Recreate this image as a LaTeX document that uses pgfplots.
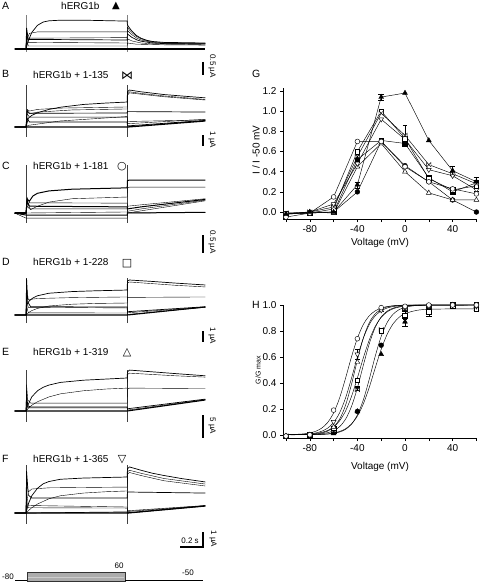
\documentclass[border=0pt]{standalone}
\usepackage{pgfplots}
\pgfplotsset{compat=1.18}
\usepackage{fontspec}
\setmainfont{Liberation Sans}
\newfontfamily\symf{DejaVu Sans}
\pgfdeclareplotmark{bowtie}{%
  \pgfpathmoveto{\pgfqpoint{-\pgfplotmarksize}{\pgfplotmarksize}}%
  \pgfpathlineto{\pgfqpoint{\pgfplotmarksize}{-\pgfplotmarksize}}%
  \pgfpathlineto{\pgfqpoint{\pgfplotmarksize}{\pgfplotmarksize}}%
  \pgfpathlineto{\pgfqpoint{-\pgfplotmarksize}{-\pgfplotmarksize}}%
  \pgfpathclose\pgfusepathqfillstroke}
\pgfplotsset{
  trace/.style={scale only axis, hide axis, clip=false, xmin=-0.1, xmax=1.56, width=190.9pt,
    anchor=south west, no markers, cycle list={{black, solid, line width=0.7pt}}},
  art/.style={black!75, line width=0.6pt},
  iv/.style={scale only axis, anchor=south west, width=194pt, xmin=-102.5, xmax=60.5, clip=false,
    axis x line*=bottom, axis y line*=left, axis line style={-, line width=0.6pt},
    xtick={-80,-40,0,40}, minor xtick={-100,-60,-20,20,60},
    tick align=outside, major tick length=3pt, minor tick length=3pt,
    tick style={black, line width=0.5pt},
    tick label style={font=\fontsize{10}{12}\selectfont},
    /pgf/number format/assume math mode=true,
    yticklabel style={/pgf/number format/.cd, fixed, fixed zerofill, precision=1},
    every axis plot/.append style={black, line width=0.45pt}},
  mA/.style={mark=triangle*, mark size=2.8pt, mark options={fill=black, solid}},
  mB/.style={mark=bowtie, mark size=2.2pt, mark options={fill=white, solid}},
  mC/.style={mark=*, mark size=2.4pt, mark options={fill=white, solid}},
  mD/.style={mark=square*, mark size=2.3pt, mark options={fill=white, solid}},
  mE/.style={mark=triangle*, mark size=2.8pt, mark options={fill=white, solid}},
  mF/.style={mark=triangle*, mark size=2.8pt, mark options={fill=white, rotate=180, solid}},
  mG/.style={mark=*, mark size=2.4pt, mark options={fill=black, solid}},
  mH/.style={mark=square*, mark size=2.3pt, mark options={fill=black, solid}},
}
\begin{document}
\begin{tikzpicture}
\useasboundingbox (0,0) rectangle (480pt,-583pt);

% ---------------- Panel A ----------------
\begin{axis}[trace, at={(14.5pt,-53.5pt)}, ymin=-0.15, ymax=1.2, height=40.5pt]
\addplot[art, black!50] coordinates {(0,-0.1)(0,1.13)};
\addplot[art, black!50] coordinates {(0.88,-0.1)(0.88,1.13)};
\addplot coordinates {(-0.1,0)(0,0)(0.02,0.27)(0.05,0.55)(0.1,0.79)(0.15,0.9)(0.2,0.94)(0.3,0.96)(0.5,0.96)(0.88,0.93)(0.882,0.8)(0.9,0.7)(0.92,0.6)(0.96,0.45)(1.0,0.36)(1.05,0.29)(1.1,0.25)(1.2,0.22)(1.56,0.2)};
\addplot coordinates {(-0.1,0)(0,0)(0.005,0.5)(0.01,0.35)(0.03,0.52)(0.1,0.57)(0.88,0.57)(0.882,0.72)(0.9,0.63)(0.92,0.55)(0.96,0.42)(1.0,0.34)(1.05,0.28)(1.1,0.24)(1.2,0.21)(1.56,0.19)};
\addplot coordinates {(-0.1,0)(0,0)(0.005,0.6)(0.015,0.3)(0.03,0.36)(0.88,0.38)(0.882,0.62)(0.9,0.55)(0.92,0.48)(0.96,0.37)(1.0,0.3)(1.1,0.22)(1.2,0.19)(1.56,0.18)};
\addplot coordinates {(-0.1,0)(0,0)(0.005,0.7)(0.02,0.32)(0.88,0.3)(0.882,0.5)(0.92,0.39)(0.96,0.31)(1.0,0.26)(1.1,0.2)(1.2,0.18)(1.56,0.17)};
\addplot coordinates {(-0.1,0)(0,0)(0.005,0.55)(0.02,0.22)(0.88,0.2)(0.882,0.34)(0.92,0.27)(1.0,0.2)(1.1,0.17)(1.56,0.15)};
\addplot coordinates {(-0.1,0)(0,0)(0.005,0.35)(0.02,0.1)(0.88,0.1)(0.882,0.2)(0.96,0.16)(1.2,0.14)(1.56,0.13)};
\addplot[line width=1.3pt] coordinates {(-0.1,0)(1.56,0)};
\end{axis}

% ---------------- Panel B ----------------
\begin{axis}[trace, at={(14.5pt,-138pt)}, ymin=-1, ymax=4, height=55pt]
\addplot[art] coordinates {(0,-0.9)(0,3.8)};
\addplot[art] coordinates {(0.88,-0.9)(0.88,3.8)};
\addplot coordinates {(-0.1,0)(0,0)(0.02,0.8)(0.05,1.05)(0.1,1.3)(0.2,1.6)(0.3,1.8)(0.5,2.05)(0.7,2.18)(0.88,2.27)(0.882,3.2)(0.9,3.36)(1.0,3.2)(1.2,2.95)(1.4,2.78)(1.56,2.65)};
\addplot coordinates {(-0.1,0)(0,0)(0.01,1.6)(0.03,1.45)(0.1,1.6)(0.3,1.72)(0.88,1.82)(0.882,3.0)(0.9,3.2)(1.0,3.05)(1.2,2.82)(1.4,2.65)(1.56,2.5)};
\addplot coordinates {(-0.1,0)(0,0)(0.01,1.4)(0.03,1.2)(0.1,1.35)(0.4,1.55)(0.88,1.64)(0.882,2.9)(0.9,3.1)(1.0,2.98)(1.2,2.75)(1.56,2.45)};
\addplot coordinates {(-0.1,0)(0,0)(0.01,1.5)(0.03,1.25)(0.88,1.27)(0.882,1.4)(1.56,1.36)};
\addplot coordinates {(-0.1,0)(0,0)(0.01,1.2)(0.03,0.9)(0.88,0.9)(0.882,0.3)(1.56,0.7)};
\addplot coordinates {(-0.1,0)(0,0)(0.02,0.15)(0.3,0.55)(0.88,0.95)(0.882,0.5)(1.56,0.65)};
\addplot coordinates {(-0.1,0)(0,0)(0.01,0.8)(0.03,0.45)(0.88,0.45)(0.882,0.1)(1.56,0.6)};
\addplot[line width=1.3pt] coordinates {(-0.1,0)(0.88,0)(0.882,0)(1.56,0.55)};
\end{axis}

% ---------------- Panel C ----------------
\begin{axis}[trace, at={(14.5pt,-223.2pt)}, ymin=-0.3, ymax=1.45, height=59.5pt,
  cycle list={{black, solid, line width=1pt}}]
\addplot[art] coordinates {(0,-0.29)(0,1.41)};
\addplot[art] coordinates {(0.88,-0.29)(0.88,1.41)};
\addplot coordinates {(-0.1,0)(0,0)(0.01,0.4)(0.03,0.35)(0.06,0.5)(0.1,0.58)(0.2,0.65)(0.4,0.7)(0.88,0.74)(0.882,0.95)(0.9,0.97)(1.56,0.97)};
\addplot coordinates {(-0.1,0)(0,0)(0.01,0.3)(0.04,0.1)(0.1,0.2)(0.2,0.32)(0.4,0.42)(0.88,0.47)(0.882,0.74)(0.9,0.76)(1.56,0.76)};
\addplot coordinates {(-0.1,0)(0,0)(0.01,0.45)(0.03,0.3)(0.88,0.29)(0.882,0.2)(1.0,0.24)(1.56,0.42)};
\addplot coordinates {(-0.1,0)(0,0)(0.01,0.35)(0.03,0.2)(0.88,0.18)(0.882,0.12)(1.0,0.18)(1.56,0.40)};
\addplot coordinates {(-0.1,0)(0,0)(0.01,0.2)(0.03,0.12)(0.88,0.12)(0.882,0.05)(1.0,0.12)(1.56,0.38)};
\addplot coordinates {(-0.1,0)(0,0)(0.88,0.03)(0.882,0.0)(1.56,0.36)};
\addplot coordinates {(-0.1,0)(0,-0.06)(0.88,-0.06)(0.882,0)(1.56,0.02)};
\addplot coordinates {(-0.1,0)(0,-0.15)(0.88,-0.15)(0.882,0)(1.56,0.02)};
\addplot[line width=2pt] coordinates {(-0.1,0)(0,0)};
\end{axis}

% ---------------- Panel D ----------------
\begin{axis}[trace, at={(14.5pt,-323.8pt)}, ymin=-0.8, ymax=3.5, height=47.3pt]
\addplot[art] coordinates {(0,-0.73)(0,3.36)};
\addplot[art] coordinates {(0.88,-0.73)(0.88,3.36)};
\addplot coordinates {(-0.1,0)(0,0)(0.01,1.0)(0.03,1.3)(0.06,1.55)(0.1,1.75)(0.2,1.98)(0.4,2.13)(0.6,2.2)(0.88,2.27)(0.882,3.1)(0.9,3.18)(1.1,3.05)(1.3,2.9)(1.56,2.73)};
\addplot coordinates {(-0.1,0)(0,0)(0.005,2.5)(0.02,1.4)(0.1,1.5)(0.4,1.58)(0.88,1.64)(0.882,2.9)(0.9,3.0)(1.1,2.85)(1.3,2.7)(1.56,2.55)};
\addplot coordinates {(-0.1,0)(0,0)(0.02,0.2)(0.05,0.4)(0.1,0.6)(0.2,0.82)(0.4,0.98)(0.6,1.05)(0.88,1.09)(0.882,1.6)(1.56,1.64)};
\addplot coordinates {(-0.1,0)(0,0)(0.005,3.3)(0.015,1.2)(0.04,0.75)(0.88,0.73)(0.882,0.3)(1.56,0.75)};
\addplot coordinates {(-0.1,0)(0,0)(0.005,1.5)(0.02,0.7)(0.88,0.64)(0.882,0.2)(1.56,0.72)};
\addplot coordinates {(-0.1,0)(0,0)(0.005,0.8)(0.02,0.2)(0.88,0.18)(0.882,0.05)(1.56,0.7)};
\addplot[line width=1.1pt] coordinates {(-0.1,0)(0.88,0)(0.882,0)(1.56,0.73)};
\end{axis}

% ---------------- Panel E ----------------
\begin{axis}[trace, at={(14.5pt,-422.4pt)}, ymin=-2.6, ymax=9.5, height=53.2pt]
\addplot[art] coordinates {(0,-2.5)(0,9.3)};
\addplot[art] coordinates {(0.88,-2.5)(0.88,9.3)};
\addplot coordinates {(-0.1,0)(0,0)(0.02,1.5)(0.05,3.2)(0.1,4.6)(0.15,5.4)(0.2,5.9)(0.3,6.5)(0.5,7.0)(0.88,7.5)(0.882,8.9)(0.9,9.3)(1.1,8.9)(1.3,8.5)(1.56,8.0)};
\addplot coordinates {(-0.1,0)(0,0)(0.02,0.6)(0.05,1.3)(0.1,2.1)(0.2,3.2)(0.3,3.9)(0.5,4.6)(0.7,5.0)(0.88,5.2)(0.882,8.3)(0.9,8.6)(1.1,8.3)(1.3,8.0)(1.56,7.7)};
\addplot coordinates {(-0.1,0)(0,0)(0.005,6)(0.015,2.5)(0.04,1.8)(0.88,1.8)(0.882,5.0)(0.9,5.2)(1.56,5.1)};
\addplot coordinates {(-0.1,0)(0,0)(0.005,4)(0.015,1.2)(0.04,0.9)(0.88,0.9)(0.882,0.5)(1.56,2.7)};
\addplot coordinates {(-0.1,0)(0,0)(0.005,2.5)(0.02,0.7)(0.88,0.7)(0.882,0.2)(1.56,2.6)};
\addplot[line width=1.1pt] coordinates {(-0.1,0)(0.88,0)(0.882,0)(1.56,2.5)};
\end{axis}

% ---------------- Panel F ----------------
\begin{axis}[trace, at={(14.5pt,-525pt)}, ymin=-0.8, ymax=3.3, height=61.5pt]
\addplot[art] coordinates {(0,-0.73)(0,3.2)};
\addplot[art] coordinates {(0.88,-0.73)(0.88,3.2)};
\addplot coordinates {(-0.1,0)(0,0)(0.02,0.6)(0.05,1.15)(0.1,1.65)(0.15,1.95)(0.2,2.1)(0.3,2.25)(0.5,2.33)(0.88,2.4)(0.882,2.95)(0.9,3.07)(1.0,2.85)(1.1,2.65)(1.2,2.5)(1.35,2.3)(1.56,2.07)};
\addplot coordinates {(-0.1,0)(0,0)(0.005,2.2)(0.02,1.4)(0.05,1.6)(0.2,1.68)(0.88,1.73)(0.882,2.75)(0.9,2.85)(1.0,2.65)(1.2,2.3)(1.56,1.93)};
\addplot coordinates {(-0.1,0)(0,0)(0.02,0.15)(0.05,0.35)(0.1,0.6)(0.2,0.95)(0.3,1.15)(0.5,1.33)(0.7,1.42)(0.88,1.47)(0.882,2.6)(0.9,2.7)(1.0,2.5)(1.2,2.15)(1.56,1.8)};
\addplot coordinates {(-0.1,0)(0,0)(0.005,2.8)(0.02,1.2)(0.05,1.0)(0.88,1.0)(0.882,1.4)(1.56,1.33)};
\addplot coordinates {(-0.1,0)(0,0)(0.005,1.5)(0.02,0.5)(0.88,0.4)(0.882,0.15)(1.56,0.5)};
\addplot coordinates {(-0.1,0)(0,0)(0.005,0.8)(0.02,0.35)(0.88,0.33)(0.882,0.1)(1.56,0.48)};
\addplot coordinates {(-0.1,0)(0,0)(0.88,0.07)(0.882,0)(1.56,0.47)};
\addplot[line width=1.3pt] coordinates {(-0.1,0)(0.88,0)(1.56,0.47)};
\end{axis}

% ---------------- Panel G ----------------
\begin{axis}[iv, at={(283pt,-219pt)}, height=131pt, ymin=-0.069, ymax=1.23,
  ytick={0,0.2,0.4,0.6,0.8,1.0,1.2}]
\addplot[mG] coordinates {(-100,-0.02)(-80,-0.01)(-60,0.0)(-40,0.20)(-20,0.70)(0,0.46)(20,0.30)(40,0.12)(60,0.0)};
\addplot[mH] coordinates {(-100,-0.01)(-80,-0.01)(-60,0.0)(-40,0.52)(-20,0.71)(0,0.68)(20,0.34)(40,0.20)(60,0.29)};
\addplot[mE] coordinates {(-100,-0.02)(-80,0.0)(-60,-0.01)(-40,0.45)(-20,0.68)(0,0.40)(20,0.19)(40,0.12)(60,0.12)};
\addplot[mF] coordinates {(-100,-0.02)(-80,0.0)(-60,0.08)(-40,0.48)(-20,0.92)(0,0.72)(20,0.42)(40,0.36)(60,0.22)};
\addplot[mD] coordinates {(-100,-0.02)(-80,-0.01)(-60,0.03)(-40,0.60)(-20,1.00)(0,0.73)(20,0.33)(40,0.22)(60,0.26)};
\addplot[mB, error bars/.cd, y dir=both, y explicit] coordinates {(-100,-0.01)(-80,0.0)(-60,0.05)(-40,0.55)(-20,0.98)(0,0.76) +- (0,0.1)(20,0.47)(40,0.38)(60,0.28) +- (0,0.07)};
\addplot[mC] coordinates {(-100,-0.05)(-80,-0.01)(-60,0.15)(-40,0.70)(-20,0.70)(0,0.45)(20,0.30)(40,0.23)(60,0.18)};
\addplot[mA, error bars/.cd, y dir=both, y explicit] coordinates {(-100,-0.02)(-80,0.0)(-60,0.0)(-40,0.27) +- (0,0.03)(-20,1.14) +- (0,0.03)(0,1.18)(20,0.71)(40,0.41) +- (0,0.04)(60,0.30) +- (0,0.05)};
\end{axis}

% ---------------- Panel H ----------------
\begin{axis}[iv, at={(283pt,-438pt)}, height=133pt, ymin=-0.025, ymax=1.0,
  ytick={0,0.2,0.4,0.6,0.8,1.0}]
% fitted Boltzmann curves (tabulated)
\addplot[smooth, mark=none] coordinates {(-100,0.001)(-95,0.002)(-90,0.004)(-85,0.007)(-80,0.014)(-75,0.027)(-70,0.051)(-65,0.094)(-60,0.168)(-55,0.282)(-50,0.434)(-45,0.599)(-40,0.744)(-35,0.850)(-30,0.917)(-25,0.955)(-20,0.977)(-15,0.988)(-10,0.994)(-5,0.997)(0,0.998)(20,1.0)(60,1.0)};
\addplot[smooth, mark=none] coordinates {(-100,0.0005)(-95,0.001)(-90,0.002)(-85,0.004)(-80,0.007)(-75,0.014)(-70,0.027)(-65,0.051)(-60,0.094)(-55,0.168)(-50,0.282)(-45,0.434)(-40,0.599)(-35,0.744)(-30,0.850)(-25,0.917)(-20,0.955)(-15,0.977)(-10,0.988)(-5,0.994)(0,0.997)(5,0.998)(20,1.0)(60,1.0)};
\addplot[smooth, mark=none] coordinates {(-100,0)(-90,0.001)(-80,0.003)(-75,0.006)(-70,0.013)(-65,0.028)(-60,0.059)(-55,0.119)(-50,0.226)(-45,0.387)(-40,0.576)(-35,0.746)(-30,0.864)(-25,0.932)(-20,0.967)(-15,0.985)(-10,0.993)(-5,0.997)(0,0.999)(20,1.0)(60,1.0)};
\addplot[smooth, mark=none] coordinates {(-100,0)(-90,0.002)(-80,0.005)(-75,0.010)(-70,0.018)(-65,0.033)(-60,0.060)(-55,0.107)(-50,0.182)(-45,0.294)(-40,0.438)(-35,0.593)(-30,0.731)(-25,0.835)(-20,0.905)(-15,0.947)(-10,0.971)(-5,0.984)(0,0.991)(10,0.998)(20,0.999)(60,1.0)};
\addplot[smooth, mark=none] coordinates {(-100,0)(-90,0)(-80,0.002)(-75,0.004)(-70,0.008)(-65,0.016)(-60,0.031)(-55,0.062)(-50,0.119)(-45,0.217)(-40,0.361)(-35,0.536)(-30,0.702)(-25,0.828)(-20,0.908)(-15,0.953)(-10,0.976)(-5,0.988)(0,0.994)(10,0.999)(20,1.0)(60,1.0)};
\addplot[smooth, mark=none] coordinates {(-100,0)(-80,0.001)(-70,0.003)(-65,0.005)(-60,0.010)(-55,0.021)(-50,0.041)(-45,0.081)(-40,0.153)(-35,0.269)(-30,0.429)(-25,0.606)(-20,0.758)(-15,0.865)(-10,0.929)(-5,0.964)(0,0.982)(5,0.991)(10,0.996)(20,0.999)(60,1.0)};
\addplot[smooth, mark=none] coordinates {(-100,0)(-80,0.001)(-70,0.004)(-65,0.007)(-60,0.014)(-55,0.025)(-50,0.046)(-45,0.083)(-40,0.144)(-35,0.238)(-30,0.366)(-25,0.515)(-20,0.659)(-15,0.774)(-10,0.855)(-5,0.905)(0,0.934)(10,0.959)(20,0.967)(40,0.97)(60,0.97)};
% data points
\addplot[only marks, mH] coordinates {(-100,-0.01)(-80,-0.01)(-60,0.03)(-40,0.36)(-20,0.80)(0,0.97)(20,0.99)(40,1.0)(60,1.0)};
\addplot[only marks, mG] coordinates {(-100,-0.01)(-80,-0.01)(-60,0.02)(-40,0.18)(-20,0.69)(0,0.97)(20,0.99)(40,1.0)(60,1.0)};
\addplot[only marks, mA, error bars/.cd, y dir=both, y explicit] coordinates {(-100,-0.01)(-80,-0.01)(-60,0.01)(-40,0.18)(-20,0.62)(0,0.87) +- (0,0.03)(20,0.95) +- (0,0.04)(40,0.99)(60,0.97)};
\addplot[only marks, mB] coordinates {(-100,-0.01)(-80,0.0)(-60,0.03)(-40,0.35)(-20,0.81)(0,0.97)(20,0.99)(40,1.0)(60,0.99)};
\addplot[only marks, mD, error bars/.cd, y dir=both, y explicit] coordinates {(-100,-0.01)(-80,0.0)(-60,0.05)(-40,0.42)(-20,0.80) +- (0,0.02)(0,0.92) +- (0,0.03)(20,0.95)(40,0.99)(60,0.97)};
\addplot[only marks, mE] coordinates {(-100,-0.01)(-80,0.0)(-60,0.06)(-40,0.56)(-20,0.96)(0,0.98)(20,0.99)(40,1.0)(60,0.99)};
\addplot[only marks, mF, error bars/.cd, y dir=both, y explicit] coordinates {(-100,-0.01)(-80,0.0)(-60,0.10)(-40,0.62) +- (0,0.04)(-20,0.96)(0,0.98)(20,0.99)(40,1.0)(60,0.99)};
\addplot[only marks, mC] coordinates {(-100,-0.01)(-80,0.0)(-60,0.19)(-40,0.74)(-20,0.98)(0,0.99)(20,1.0)(40,1.0)(60,1.0)};
\end{axis}

% ---------------- annotations ----------------
\begin{scope}[x=1pt, y=-1pt]
\def\ttl{\fontsize{10}{12}\selectfont}
\def\lbl{\fontsize{10.5}{12}\selectfont}
\def\sml{\fontsize{8}{9}\selectfont}
% panel letters
\node[anchor=west, inner sep=0, font=\lbl] at (2,6) {A};
\node[anchor=west, inner sep=0, font=\lbl] at (2,74) {B};
\node[anchor=west, inner sep=0, font=\lbl] at (2,166) {C};
\node[anchor=west, inner sep=0, font=\lbl] at (2,262) {D};
\node[anchor=west, inner sep=0, font=\lbl] at (2,352) {E};
\node[anchor=west, inner sep=0, font=\lbl] at (2,459) {F};
\node[anchor=west, inner sep=0, font=\lbl] at (252,74) {G};
\node[anchor=west, inner sep=0, font=\lbl] at (252,305) {H};
% titles
\node[anchor=west, inner sep=0, font=\ttl] at (61,6) {hERG1b};
\node[anchor=center, inner sep=0, font=\ttl\symf] at (116,6) {▲};
\node[anchor=west, inner sep=0, font=\ttl] at (33,75) {hERG1b + 1-135};
\node[anchor=center, inner sep=0, font=\fontsize{12}{12}\selectfont\symf] at (127,76) {⋈};
\node[anchor=west, inner sep=0, font=\ttl] at (33,166) {hERG1b + 1-181};
\node[fill=white, anchor=center, inner sep=0.3pt, font=\fontsize{11}{12}\selectfont\symf] at (122,167) {○};
\node[anchor=west, inner sep=0, font=\ttl] at (33,262) {hERG1b + 1-228};
\node[anchor=center, inner sep=0, font=\fontsize{11}{12}\selectfont\symf] at (127,264) {□};
\node[anchor=west, inner sep=0, font=\ttl] at (33,352) {hERG1b + 1-319};
\node[anchor=center, inner sep=0, font=\fontsize{11}{12}\selectfont\symf] at (127,353) {△};
\node[anchor=west, inner sep=0, font=\ttl] at (33,459) {hERG1b + 1-365};
\node[anchor=center, inner sep=0, font=\fontsize{11}{12}\selectfont\symf] at (122,460) {▽};
% scale bars
\draw[line width=1.2pt] (203,62) -- (203,75);
\node[rotate=-90, inner sep=0, font=\sml] at (212,66) {0.5 µA};
\draw[line width=1.2pt] (203,135) -- (203,146);
\node[rotate=-90, inner sep=0, font=\sml] at (212,140) {1 µA};
\draw[line width=1.2pt] (203,235) -- (203,253);
\node[rotate=-90, inner sep=0, font=\sml] at (212,242) {0.5 µA};
\draw[line width=1.2pt] (203,331) -- (203,342);
\node[rotate=-90, inner sep=0, font=\sml] at (212,336) {1 µA};
\draw[line width=1.2pt] (203,415) -- (203,438);
\node[rotate=-90, inner sep=0, font=\sml] at (212,426) {5 µA};
\draw[line width=1.2pt] (180,547) -- (203,547) -- (203,532);
\node[inner sep=0, font=\sml] at (190,541) {0.2 s};
\node[rotate=-90, inner sep=0, font=\sml] at (213,539) {1 µA};
% voltage protocol
\draw[line width=0.5pt] (15,580.5) -- (27,580.5);
\draw[line width=0.5pt, fill=gray!65, draw=gray!40!black] (27,572.5) rectangle (125,581.5);
\draw[gray!40, line width=0.6pt] (28,577) -- (124,577);
\draw[line width=0.5pt] (125,580) -- (203,580);
\node[inner sep=0, font=\sml] at (8,577) {-80};
\node[inner sep=0, font=\sml] at (119,566) {60};
\node[inner sep=0, font=\sml] at (188,573) {-50};
% IV labels
\node[rotate=90, inner sep=0, font=\ttl] at (256,150) {I / I -50 mV};
\node[inner sep=0, font=\ttl] at (380,243) {Voltage (mV)};
\node[rotate=90, inner sep=0, font=\fontsize{7}{8}\selectfont] at (258,370) {G/G max};
\node[inner sep=0, font=\ttl] at (380,467) {Voltage (mV)};
\end{scope}
\end{tikzpicture}
\end{document}
